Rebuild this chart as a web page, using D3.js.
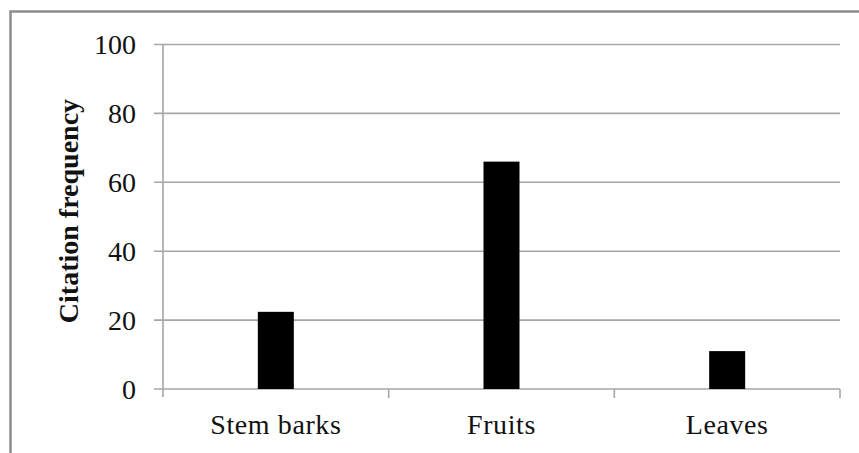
<!DOCTYPE html>
<html><head><meta charset="utf-8">
<script src="https://cdn.jsdelivr.net/npm/d3@7"></script>
<style>html,body{margin:0;padding:0;background:#fff;overflow:hidden}</style>
</head><body>
<svg id="chart" width="859" height="453"></svg>
<script>
const categories = ["Stem barks", "Fruits", "Leaves"];
const values = [22.4, 66, 11];
const yTicks = [0, 20, 40, 60, 80, 100];
const yTitle = "Citation frequency";

const svg = d3.select("#chart");
const W = 859, H = 453;
const m = {left: 163, right: 19, top: 44.5, bottom: 64};
const fontFam = "'Liberation Serif', 'Times New Roman', serif";

// outer frame
svg.append("rect").attr("x", 10.5).attr("y", 11.5).attr("width", 900).attr("height", 600)
  .attr("fill", "none").attr("stroke", "#8c8c8c").attr("stroke-width", 2.5);

const x = d3.scaleBand().domain(categories).range([m.left, W - m.right]).padding(0);
const y = d3.scaleLinear().domain([0, 100]).range([H - m.bottom, m.top]);

// gridlines
const g = svg.append("g");
g.selectAll("line.grid").data(yTicks).join("line").attr("class", "grid")
  .attr("x1", m.left - 9).attr("x2", W - m.right)
  .attr("y1", d => y(d)).attr("y2", d => y(d))
  .attr("stroke", "#a6a6a6").attr("stroke-width", 1.6);

// y axis line
g.append("line").attr("x1", m.left).attr("x2", m.left).attr("y1", y(100)).attr("y2", y(0) + 8)
  .attr("stroke", "#a6a6a6").attr("stroke-width", 1.6);

// x category ticks
const xTickPos = categories.map(c => x(c) + x.bandwidth());
g.selectAll("line.xt").data(xTickPos).join("line").attr("class", "xt")
  .attr("x1", d => d).attr("x2", d => d).attr("y1", y(0)).attr("y2", y(0) + 9)
  .attr("stroke", "#a6a6a6").attr("stroke-width", 1.6);

// y tick labels
g.selectAll("text.yl").data(yTicks).join("text").attr("class", "yl")
  .attr("x", 136).attr("y", d => y(d)).attr("dy", "0.35em")
  .attr("text-anchor", "end").attr("font-family", fontFam).attr("font-size", 28)
  .attr("fill", "#111").text(d => d);

// bars
const bw = 36;
svg.selectAll("rect.bar").data(values).join("rect").attr("class", "bar")
  .attr("x", (d, i) => x(categories[i]) + x.bandwidth() / 2 - bw / 2)
  .attr("width", bw)
  .attr("y", d => y(d)).attr("height", d => y(0) - y(d))
  .attr("fill", "#000");

// category labels
svg.selectAll("text.xl").data(categories).join("text").attr("class", "xl")
  .attr("x", d => x(d) + x.bandwidth() / 2).attr("y", 434)
  .attr("text-anchor", "middle").attr("font-family", fontFam).attr("font-size", 28)
  .attr("letter-spacing", 0.6).attr("fill", "#111").text(d => d);

// y title
svg.append("text").attr("transform", "translate(78," + 211 + ") rotate(-90)")
  .attr("text-anchor", "middle").attr("font-family", fontFam).attr("font-size", 28)
  .attr("font-weight", "bold").attr("fill", "#111").text(yTitle);
</script>
</body></html>
